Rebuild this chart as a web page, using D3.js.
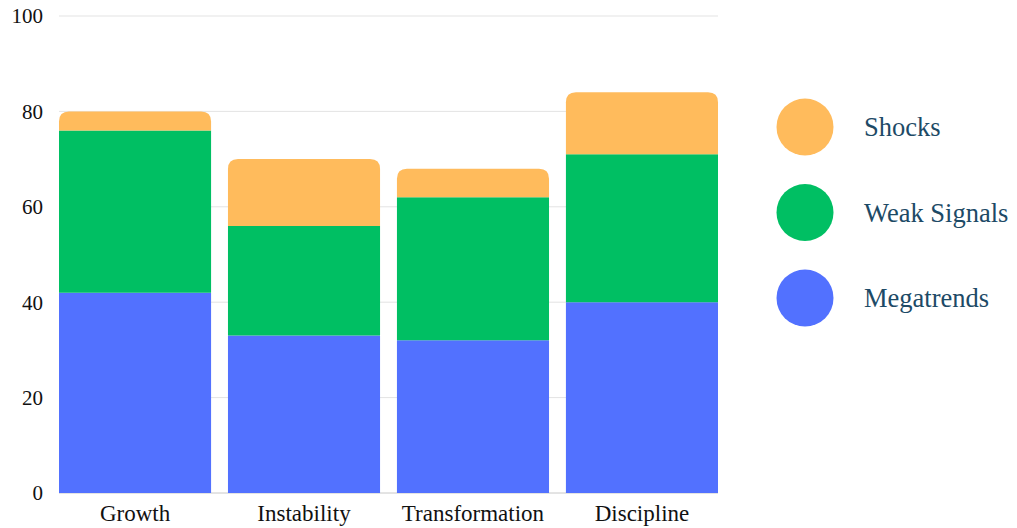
<!doctype html>
<html lang="en">
<head>
<meta charset="UTF-8">
<script src="https://d3js.org/d3.v7.min.js"></script>
<style>
  body { margin: 0; background: #fff; }
  text { font-family: "Liberation Serif", "Times New Roman", serif; }
</style>
</head>
<body>
<div id="chart"></div>
<script>
// data
var categories = ["Growth", "Instability", "Transformation", "Discipline"];
var megatrends = [42, 33, 32, 40];
var weakSignals = [34, 23, 30, 31];
var shocks = [4, 14, 6, 13];
var yTicks = [0, 20, 40, 60, 80, 100];
var seriesNames = ["Megatrends", "Weak Signals", "Shocks"];
var seriesColors = ["#5271FF", "#00BF63", "#FFBB5C"];

var width = 1017, height = 528;
var margin = {top: 16, right: 299, bottom: 35, left: 59};

var svg = d3.select("#chart").append("svg")
    .attr("width", width)
    .attr("height", height);

var x = d3.scaleBand()
    .domain(categories)
    .range([margin.left, width - margin.right])
    .paddingInner(0.1)
    .paddingOuter(0);

var y = d3.scaleLinear()
    .domain([0, 100])
    .range([height - margin.bottom, margin.top]);

// gridlines
svg.append("g")
    .selectAll("line")
    .data(yTicks)
    .enter()
    .append("line")
    .attr("x1", margin.left)
    .attr("x2", width - margin.right)
    .attr("y1", function (d) { return y(d); })
    .attr("y2", function (d) { return y(d); })
    .attr("stroke", function (d) { return d === 0 ? "#c8c8c8" : "#e3e3e3"; })
    .attr("stroke-width", 1);

// y tick labels
svg.append("g")
    .selectAll("text")
    .data(yTicks)
    .enter()
    .append("text")
    .attr("x", 43)
    .attr("y", function (d) { return y(d); })
    .attr("dy", "0.35em")
    .attr("text-anchor", "end")
    .attr("font-size", 21)
    .attr("fill", "#111")
    .text(function (d) { return d; });

// stack the data
var rows = categories.map(function (c, i) {
    return {cat: c, Megatrends: megatrends[i], "Weak Signals": weakSignals[i], Shocks: shocks[i]};
});
var stacked = d3.stack().keys(seriesNames)(rows);

function roundedTop(x0, y0, w, h, r) {
    r = Math.min(r, h, w / 2);
    return "M" + x0 + "," + (y0 + h) +
        "V" + (y0 + r) +
        "Q" + x0 + "," + y0 + " " + (x0 + r) + "," + y0 +
        "H" + (x0 + w - r) +
        "Q" + (x0 + w) + "," + y0 + " " + (x0 + w) + "," + (y0 + r) +
        "V" + (y0 + h) + "Z";
}

stacked.forEach(function (layer, li) {
    var isTop = li === stacked.length - 1;
    svg.append("g")
        .selectAll("path")
        .data(layer)
        .enter()
        .append("path")
        .attr("fill", seriesColors[li])
        .attr("d", function (d) {
            var x0 = x(d.data.cat), w = x.bandwidth();
            var y0 = y(d[1]), h = y(d[0]) - y(d[1]);
            return roundedTop(x0, y0, w, h, isTop ? 10 : 0);
        });
});

// x labels
svg.append("g")
    .selectAll("text")
    .data(categories)
    .enter()
    .append("text")
    .attr("x", function (d) { return x(d) + x.bandwidth() / 2; })
    .attr("y", 521)
    .attr("text-anchor", "middle")
    .attr("font-size", 23)
    .attr("fill", "#111")
    .text(function (d) { return d; });

// legend (top item is Shocks)
var legendItems = seriesNames.slice().reverse();
var legendColors = seriesColors.slice().reverse();
var legend = svg.append("g")
    .selectAll("g")
    .data(legendItems)
    .enter()
    .append("g")
    .attr("transform", function (d, i) { return "translate(805," + (127 + i * 85.5) + ")"; });

legend.append("circle")
    .attr("r", 28.5)
    .attr("fill", function (d, i) { return legendColors[i]; });

legend.append("text")
    .attr("x", 59)
    .attr("dy", "0.35em")
    .attr("font-size", 26.5)
    .attr("fill", "#1d4a66")
    .text(function (d) { return d; });
</script>
</body>
</html>
